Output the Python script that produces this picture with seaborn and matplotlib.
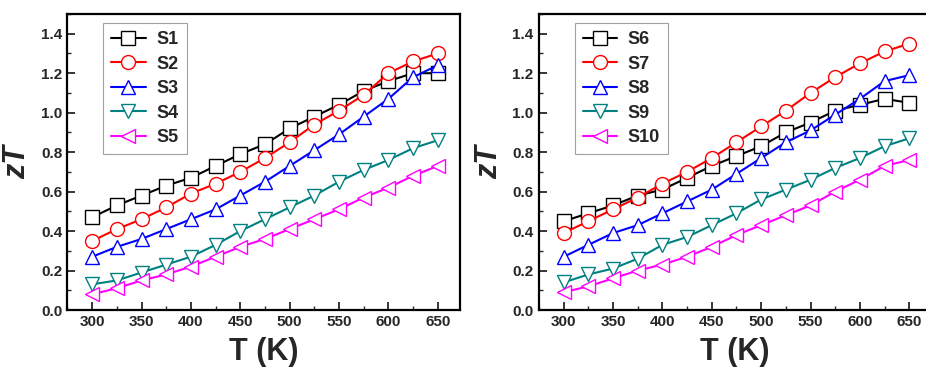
import numpy as np
import pandas as pd
import matplotlib
matplotlib.use("Agg")
import matplotlib.pyplot as plt
import seaborn as sns
from matplotlib.ticker import MultipleLocator, FormatStrFormatter

# ----------------------------------
# Data
# ----------------------------------

temp = [300, 325, 350, 375, 400, 425, 450, 475, 500, 525, 550, 575, 600, 625, 650]

s1 = [0.47, 0.53, 0.58, 0.63, 0.67, 0.73, 0.79, 0.84, 0.92, 0.98, 1.04, 1.11, 1.16, 1.20, 1.20]
s2 = [0.35, 0.41, 0.46, 0.52, 0.59, 0.64, 0.70, 0.77, 0.85, 0.94, 1.01, 1.09, 1.20, 1.26, 1.30]
s3 = [0.27, 0.32, 0.36, 0.41, 0.46, 0.51, 0.58, 0.65, 0.73, 0.81, 0.89, 0.98, 1.07, 1.18, 1.24]
s4 = [0.13, 0.15, 0.19, 0.23, 0.27, 0.33, 0.40, 0.46, 0.52, 0.58, 0.65, 0.71, 0.76, 0.82, 0.86]
s5 = [0.08, 0.11, 0.15, 0.18, 0.22, 0.27, 0.32, 0.36, 0.41, 0.46, 0.51, 0.57, 0.62, 0.68, 0.73]

s6 = [0.45, 0.49, 0.53, 0.58, 0.61, 0.67, 0.73, 0.78, 0.83, 0.90, 0.95, 1.01, 1.04, 1.07, 1.05]
s7 = [0.39, 0.45, 0.51, 0.57, 0.64, 0.70, 0.77, 0.85, 0.93, 1.01, 1.10, 1.18, 1.25, 1.31, 1.35]
s8 = [0.27, 0.33, 0.39, 0.43, 0.49, 0.55, 0.61, 0.69, 0.77, 0.85, 0.91, 0.99, 1.07, 1.16, 1.19]
s9 = [0.14, 0.18, 0.21, 0.26, 0.33, 0.37, 0.43, 0.49, 0.56, 0.61, 0.66, 0.72, 0.77, 0.83, 0.87]
s10 = [0.09, 0.12, 0.16, 0.20, 0.23, 0.27, 0.32, 0.38, 0.43, 0.48, 0.53, 0.60, 0.66, 0.73, 0.76]

left_labels = ["S1", "S2", "S3", "S4", "S5"]
right_labels = ["S6", "S7", "S8", "S9", "S10"]

colors = ["#000000", "#FF0000", "#0000FF", "#008080", "#FF00FF"]
markers = ["s", "o", "^", "v", "<"]

# ----------------------------------
# Style
# ----------------------------------

sns.set_style("white")
plt.rcParams["font.family"] = ["Liberation Sans", "DejaVu Sans"]
plt.rcParams["font.weight"] = "bold"

fig = plt.figure(figsize=(9.26, 3.68), dpi=100)

ax1 = fig.add_axes([67 / 926, 1 - 310 / 368, 393 / 926, 296 / 368])
ax2 = fig.add_axes([538.5 / 926, 1 - 310 / 368, 393 / 926, 296 / 368])


def draw_panel(ax, series, labels):

    for vals, lab, col, mk in zip(series, labels, colors, markers):

        sns.lineplot(
            x=temp,
            y=vals,
            ax=ax,
            color=col,
            marker=mk,
            markersize=10,
            markerfacecolor="white",
            markeredgecolor=col,
            markeredgewidth=1.0,
            linewidth=1.5,
            label=lab
        )

    ax.set_xlim(274.5, 672.5)
    ax.set_ylim(0, 1.5)

    ax.xaxis.set_major_locator(MultipleLocator(50))
    ax.xaxis.set_minor_locator(MultipleLocator(25))
    ax.yaxis.set_major_locator(MultipleLocator(0.2))
    ax.yaxis.set_minor_locator(MultipleLocator(0.1))
    ax.yaxis.set_major_formatter(FormatStrFormatter("%.1f"))

    ax.set_yticks(np.arange(0, 1.41, 0.2))

    ax.tick_params(
        which="major",
        direction="in",
        length=6,
        width=1.3,
        labelsize=11,
        bottom=True,
        left=True,
        top=False,
        right=False
    )
    ax.tick_params(
        which="minor",
        direction="in",
        length=3,
        width=1.0,
        bottom=True,
        left=True,
        top=False,
        right=False
    )

    for lab in ax.get_xticklabels() + ax.get_yticklabels():
        lab.set_fontweight("bold")

    for sp in ax.spines.values():
        sp.set_linewidth(1.6)
        sp.set_color("black")

    ax.set_xlabel("T (K)", fontsize=22, fontweight="bold", labelpad=6)
    ax.set_ylabel("zT", fontsize=22, fontweight="bold",
                  fontstyle="italic", labelpad=6)

    leg = ax.legend(
        loc="upper left",
        bbox_to_anchor=(0.092, 0.97),
        borderaxespad=0,
        frameon=True,
        fancybox=False,
        edgecolor="#888888",
        handlelength=1.9,
        handletextpad=0.6,
        labelspacing=0.42,
        borderpad=0.45,
        prop={"weight": "bold", "size": 13}
    )
    leg.get_frame().set_linewidth(0.8)


draw_panel(ax1, [s1, s2, s3, s4, s5], left_labels)
draw_panel(ax2, [s6, s7, s8, s9, s10], right_labels)

fig.savefig("out.png", dpi=100)
